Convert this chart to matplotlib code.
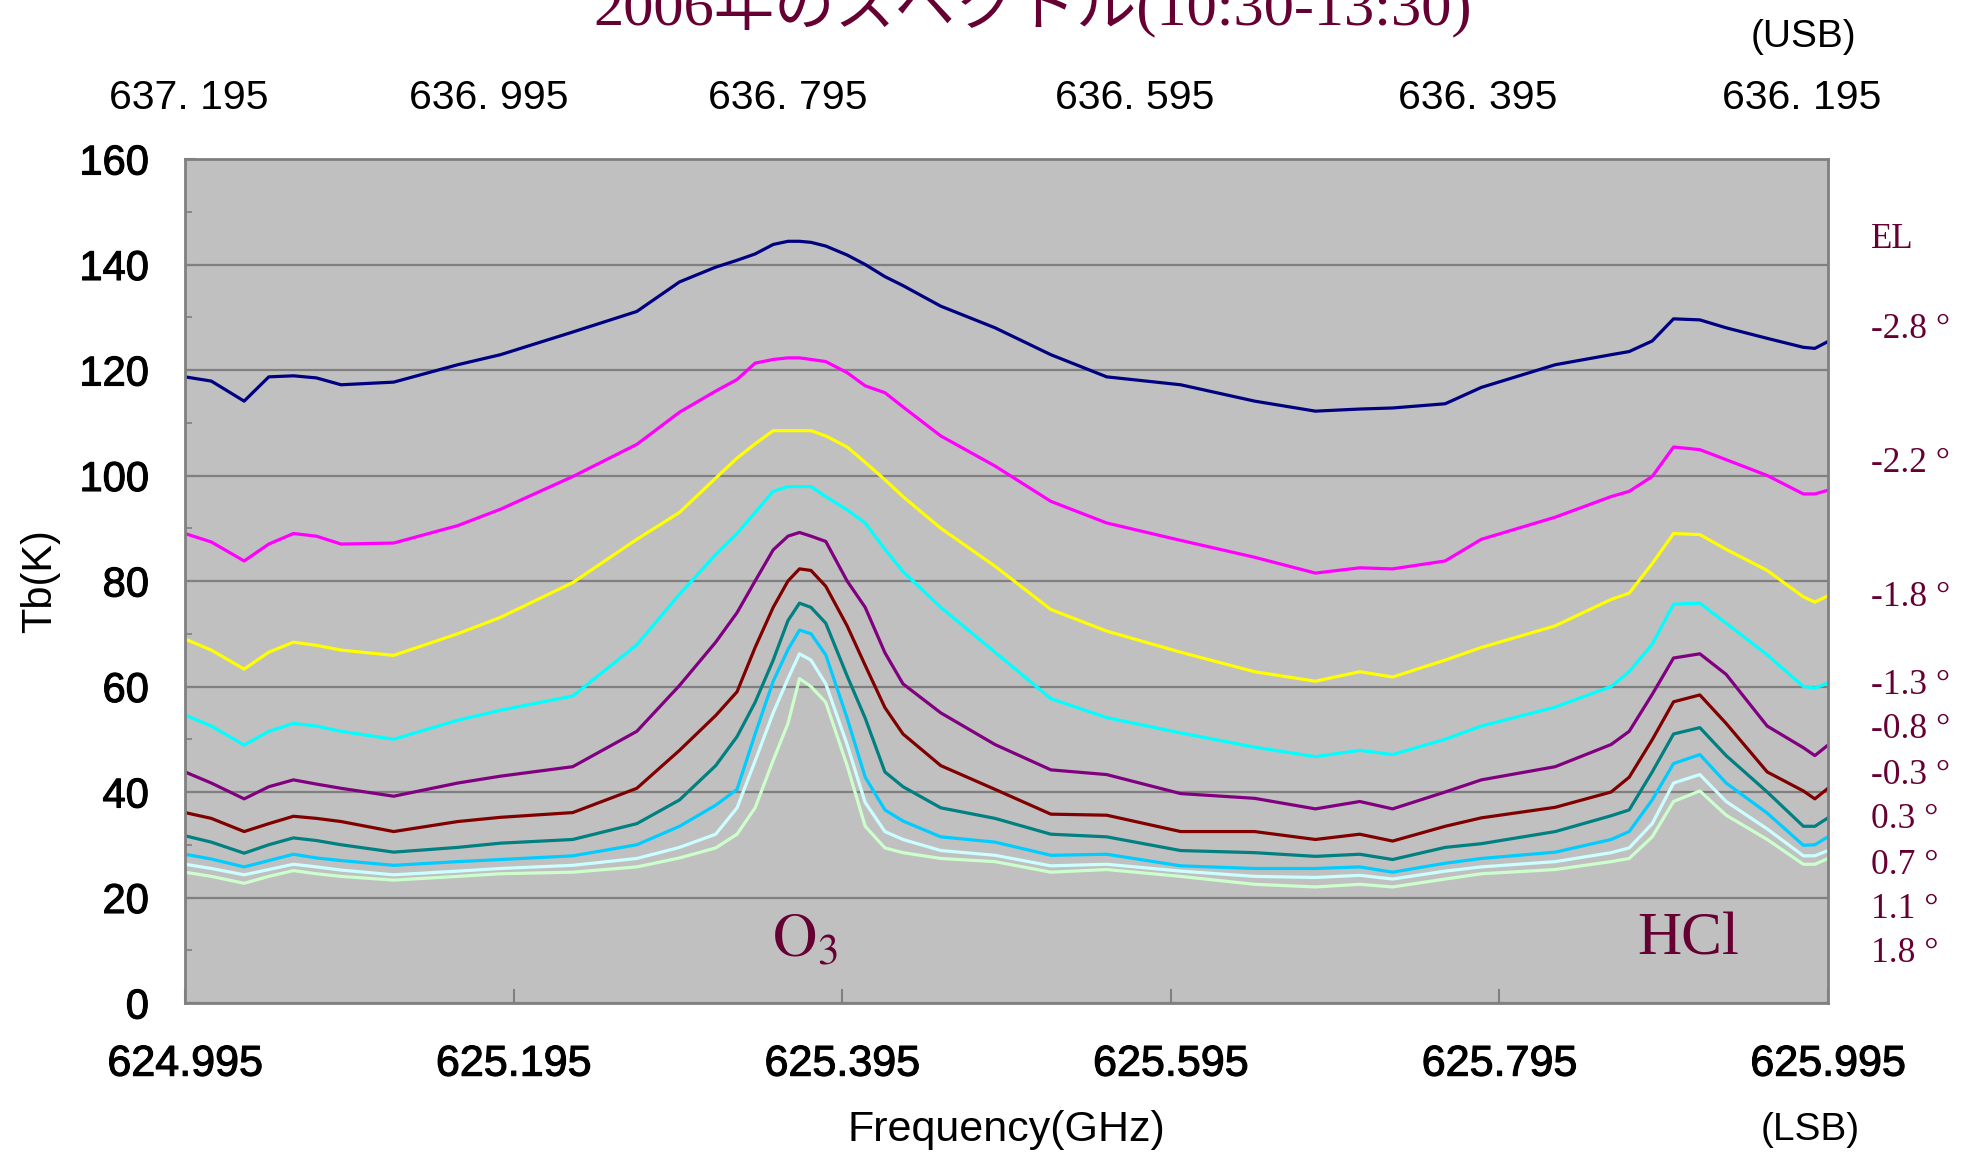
import matplotlib
matplotlib.use("Agg")
import matplotlib.pyplot as plt
import matplotlib.patheffects as pe
import numpy as np

# LSB 周波数 (GHz)
freq = [624.995, 625.011, 625.031, 625.046, 625.061, 625.075, 625.090, 625.122,
        625.161, 625.187, 625.231, 625.270, 625.296, 625.318, 625.331, 625.342,
        625.353, 625.362, 625.369, 625.376, 625.385, 625.398, 625.409, 625.421,
        625.432, 625.455, 625.488, 625.522, 625.556, 625.601, 625.646, 625.683,
        625.710, 625.730, 625.762, 625.784, 625.829, 625.863, 625.874, 625.888,
        625.901, 625.917, 625.933, 625.958, 625.980, 625.987, 625.995]

# 仰角ごとの輝度温度 Tb(K)
tb_m28 = [118.7, 117.9, 114.1, 118.7, 118.9, 118.5, 117.2, 117.7, 121.0, 122.9,
          127.2, 131.1, 136.7, 139.5, 140.8, 142.0, 143.8, 144.4, 144.4, 144.2,
          143.5, 141.8, 140.0, 137.7, 136.0, 132.1, 128.0, 122.9, 118.7, 117.2,
          114.1, 112.2, 112.6, 112.8, 113.6, 116.7, 121.0, 122.9, 123.5, 125.5,
          129.7, 129.5, 128.0, 126.0, 124.3, 124.1, 125.4]
tb_m22 = [89.0, 87.4, 83.8, 87.0, 89.0, 88.5, 87.0, 87.2, 90.5, 93.6,
          99.8, 105.9, 112.0, 116.0, 118.2, 121.3, 122.0, 122.3, 122.3, 122.0,
          121.6, 119.5, 117.0, 115.7, 113.0, 107.5, 101.8, 95.1, 91.0, 87.7,
          84.5, 81.5, 82.5, 82.3, 83.8, 87.9, 92.1, 96.0, 97.0, 99.8,
          105.4, 104.9, 103.0, 100.0, 96.5, 96.5, 97.2]
tb_m18 = [69.0, 66.9, 63.3, 66.5, 68.4, 67.8, 66.9, 65.9, 70.0, 73.1,
          79.7, 87.9, 93.0, 99.5, 103.3, 106.0, 108.5, 108.5, 108.5, 108.5,
          107.5, 105.4, 102.5, 99.2, 96.0, 90.0, 82.8, 74.6, 70.5, 66.5,
          62.8, 61.0, 62.8, 61.8, 65.0, 67.4, 71.5, 76.5, 77.7, 83.3,
          89.0, 88.8, 86.0, 82.0, 77.0, 76.0, 77.2]
tb_m13 = [54.6, 52.5, 48.9, 51.5, 53.0, 52.5, 51.5, 50.0, 53.6, 55.5,
          58.2, 67.9, 77.5, 85.0, 89.0, 93.0, 97.0, 97.9, 97.9, 97.9,
          96.0, 93.5, 91.0, 86.0, 81.8, 75.0, 66.5, 57.7, 54.1, 51.2,
          48.5, 46.7, 47.9, 47.1, 50.0, 52.5, 56.1, 60.0, 62.8, 68.0,
          75.6, 75.8, 72.0, 66.0, 60.0, 59.7, 60.7]
tb_m08 = [43.8, 41.7, 38.7, 41.0, 42.3, 41.5, 40.7, 39.2, 41.7, 43.0,
          44.8, 51.5, 60.2, 68.4, 74.0, 80.0, 85.9, 88.5, 89.2, 88.5,
          87.5, 80.0, 75.0, 66.4, 60.5, 55.0, 49.0, 44.2, 43.3, 39.7,
          38.8, 36.8, 38.2, 36.8, 40.0, 42.3, 44.8, 49.0, 51.5, 58.5,
          65.4, 66.2, 62.3, 52.5, 48.4, 46.9, 48.9]
tb_m03 = [36.1, 35.0, 32.5, 34.0, 35.4, 35.0, 34.4, 32.5, 34.4, 35.2,
          36.1, 40.7, 47.9, 54.5, 59.0, 67.4, 75.0, 80.0, 82.3, 82.0,
          79.0, 71.5, 64.0, 56.0, 51.0, 45.0, 40.5, 35.8, 35.6, 32.5,
          32.5, 31.0, 32.0, 30.7, 33.5, 35.1, 37.1, 40.0, 42.8, 49.9,
          57.1, 58.4, 53.0, 43.8, 40.2, 38.7, 40.7]
tb_p03 = [31.7, 30.5, 28.4, 30.0, 31.3, 30.8, 30.0, 28.6, 29.5, 30.3,
          31.0, 34.0, 38.5, 45.0, 50.5, 57.0, 65.0, 72.5, 75.8, 75.0,
          72.0, 62.0, 54.0, 43.8, 41.0, 37.0, 35.0, 32.0, 31.5, 28.9,
          28.5, 27.8, 28.2, 27.2, 29.5, 30.2, 32.5, 35.5, 36.6, 43.8,
          51.0, 52.2, 46.9, 40.0, 33.5, 33.5, 35.1]
tb_p07 = [28.2, 27.3, 25.8, 27.0, 28.2, 27.5, 27.0, 26.1, 26.8, 27.2,
          27.9, 30.0, 33.5, 37.5, 40.5, 51.0, 61.0, 67.0, 70.7, 70.0,
          66.0, 54.0, 42.8, 36.6, 34.5, 31.5, 30.5, 28.0, 28.2, 26.0,
          25.5, 25.5, 25.8, 24.8, 26.5, 27.4, 28.6, 31.0, 32.5, 38.5,
          45.4, 47.1, 41.7, 36.0, 29.9, 30.0, 31.5]
tb_p11 = [26.3, 25.5, 24.3, 25.3, 26.3, 25.8, 25.2, 24.3, 25.0, 25.5,
          26.1, 27.4, 29.5, 32.0, 37.0, 45.9, 55.0, 61.5, 66.2, 65.0,
          60.5, 49.0, 38.0, 32.5, 31.0, 28.9, 28.0, 26.0, 26.3, 25.0,
          24.0, 23.8, 24.2, 23.5, 25.0, 25.8, 26.8, 28.5, 29.4, 34.0,
          41.7, 43.3, 38.2, 33.0, 27.9, 27.9, 28.9]
tb_p18 = [24.8, 24.0, 22.7, 24.0, 25.1, 24.5, 24.0, 23.3, 24.0, 24.5,
          24.8, 25.8, 27.5, 29.4, 32.0, 37.0, 46.0, 53.0, 61.5, 60.0,
          57.0, 45.0, 33.5, 29.4, 28.5, 27.4, 26.8, 24.8, 25.3, 24.0,
          22.5, 22.0, 22.5, 22.0, 23.5, 24.5, 25.3, 26.8, 27.4, 31.5,
          38.2, 40.2, 35.6, 31.0, 26.3, 26.3, 27.4]

series = [tb_m28, tb_m22, tb_m18, tb_m13, tb_m08, tb_m03, tb_p03, tb_p07, tb_p11, tb_p18]
colors = ["#000080", "#FF00FF", "#FFFF00", "#00FFFF", "#800080",
          "#800000", "#008080", "#00CCFF", "#CCFFFF", "#CCFFCC"]
el_labels = ["-2.8 °", "-2.2 °", "-1.8 °", "-1.3 °", "-0.8 °",
             "-0.3 °", "0.3 °", "0.7 °", "1.1 °", "1.8 °"]
el_label_y = [330, 464, 598, 686, 730, 775, 820, 865, 910, 954]  # 図の上端からのピクセル

lsb_ticks = [624.995, 625.195, 625.395, 625.595, 625.795, 625.995]
usb_labels = ["637. 195", "636. 995", "636. 795", "636. 595", "636. 395", "636. 195"]
usb_pos = [624.997, 625.180, 625.362, 625.573, 625.782, 625.979]

W, H = 1978, 1156
maroon = "#660033"
thick = [pe.withStroke(linewidth=0.8, foreground="black")]

fig = plt.figure(figsize=(W / 100, H / 100), dpi=100)
ax = fig.add_axes([185 / W, 1 - 1003 / H, (1828 - 185) / W, (1003 - 159) / H])
ax.set_facecolor("#C0C0C0")

for tb, c in zip(series, colors):
    ax.plot(freq, tb, color=c, lw=2.3)

ax.set_xlim(624.995, 625.995)
ax.set_ylim(0, 160)
ax.set_yticks(np.arange(0, 161, 20))
ax.set_yticks(np.arange(0, 161, 10), minor=True)
ax.set_xticks(lsb_ticks)
ax.set_xticklabels(["%.3f" % t for t in lsb_ticks])
ax.grid(axis="y", color="#808080", lw=1.6)
ax.set_axisbelow(True)
for s in ax.spines.values():
    s.set_color("#808080")
    s.set_linewidth(2)

ax.tick_params(axis="x", direction="in", length=10, width=1.5, color="#808080",
               pad=30, labelsize=31)
ax.tick_params(axis="y", which="major", direction="in", length=8, width=1.5,
               color="#808080", pad=26, labelsize=30)
ax.tick_params(axis="y", which="minor", direction="in", length=5, width=1.2,
               color="#808080")
for lab in ax.get_xticklabels() + ax.get_yticklabels():
    lab.set_family("Liberation Sans")
    lab.set_path_effects(thick)

ax.set_xlabel("Frequency(GHz)", fontsize=31, family="Liberation Sans", labelpad=18)
ax.set_ylabel("Tb(K)", fontsize=30, family="Liberation Sans", labelpad=14)

# 上側の USB 周波数
ax2 = ax.twiny()
ax2.set_xlim(ax.get_xlim())
ax2.set_xticks(usb_pos)
ax2.set_xticklabels(usb_labels, family="Liberation Sans", fontsize=29.5)
ax2.tick_params(axis="x", length=0, pad=30)
for s in ax2.spines.values():
    s.set_visible(False)

fig.text(1803 / W, 1 - 37 / H, "(USB)", family="Liberation Sans", fontsize=28,
         ha="center", va="center")
fig.text(1810 / W, 1 - 1130 / H, "(LSB)", family="Liberation Sans", fontsize=28,
         ha="center", va="center")

# タイトル（上端で切れている）
fig.text(0.522, 1 - 25 / H, "2006年のスペクトル(10:30-13:30)",
         family=["Liberation Serif", "Noto Sans CJK JP"], fontsize=43.5,
         color=maroon, ha="center", va="baseline")

# 分子名
plt.rcParams["mathtext.fontset"] = "stix"
fig.text(805 / W, 1 - 940 / H, r"$\mathrm{O_3}$", fontsize=44, color=maroon,
         ha="center", va="center")
fig.text(1688 / W, 1 - 940 / H, "HCl", family="Liberation Serif", fontsize=44,
         color=maroon, ha="center", va="center")

# 仰角ラベル
fig.text(1871 / W, 1 - 240 / H, "EL", family="Liberation Serif", fontsize=25,
         color=maroon, ha="left", va="center")
for lab, y in zip(el_labels, el_label_y):
    fig.text(1871 / W, 1 - y / H, lab, family="Liberation Serif", fontsize=25.5,
             color=maroon, ha="left", va="center")

fig.savefig("out.png", dpi=100, facecolor="white")
